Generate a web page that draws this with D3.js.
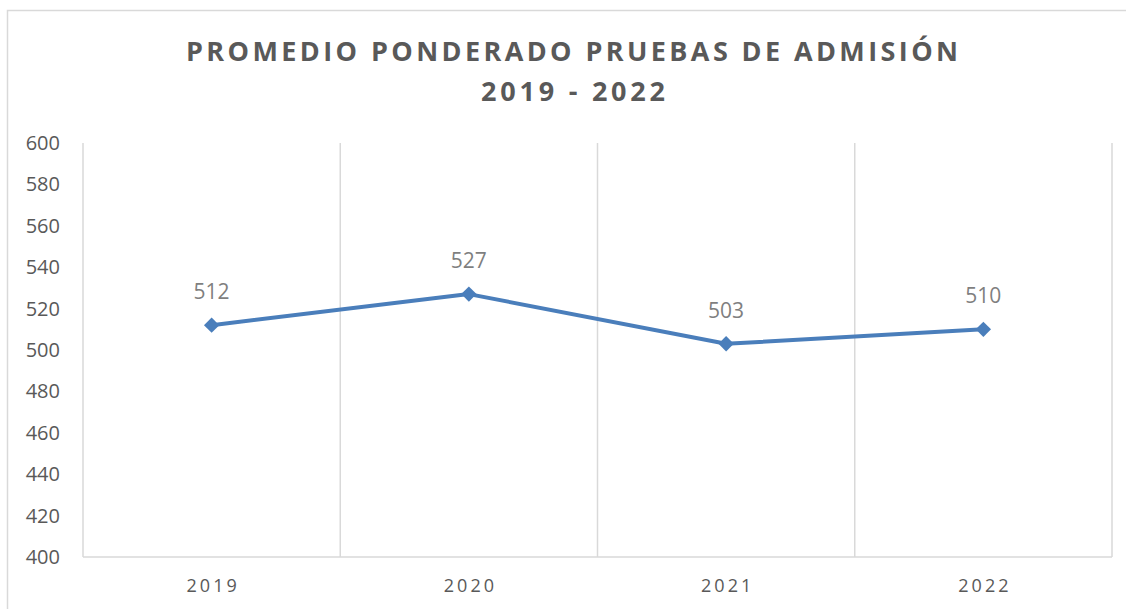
<!DOCTYPE html>
<html><head><meta charset="utf-8">
<script src="https://cdn.jsdelivr.net/npm/d3@7"></script>
<style>body{margin:0;background:#fff;}svg{display:block;}</style>
</head><body>
<svg id="c" width="1126" height="609"></svg>
<script>
const categories = ["2019","2020","2021","2022"];
const values = [512, 527, 503, 510];
const yTicks = [400,420,440,460,480,500,520,540,560,580,600];
const titleLines = ["PROMEDIO PONDERADO PRUEBAS DE ADMISIÓN","2019 - 2022"];

(function(){
const svg = d3.select("#c");
const font = "'Open Sans', 'Liberation Sans', sans-serif";
// outer chart border
svg.append("rect").attr("x",7.5).attr("y",10.5).attr("width",1130).attr("height",610)
  .attr("fill","#fff").attr("stroke","#d9d9d9").attr("stroke-width",1.5);

const pl=83, pr=1112, pt=143, pb=557;
const x = d3.scaleBand().domain(categories).range([pl,pr]);
const y = d3.scaleLinear().domain([400,600]).range([pb,pt]);

// vertical gridlines at category boundaries
const bounds = categories.map(c=>x(c)+x.bandwidth()).concat([pl]);
svg.append("g").selectAll("line").data(bounds).join("line")
  .attr("x1",d=>d).attr("x2",d=>d).attr("y1",pt).attr("y2",pb)
  .attr("stroke","#d9d9d9").attr("stroke-width",1.5);
// bottom axis line
svg.append("line").attr("x1",pl).attr("x2",pr).attr("y1",pb).attr("y2",pb)
  .attr("stroke","#d9d9d9").attr("stroke-width",1.5);

// y axis labels
const yAxis = d3.axisLeft(y).tickValues(yTicks).tickSize(0).tickPadding(23);
const gy = svg.append("g").attr("transform",`translate(${pl},0)`).call(yAxis);
gy.select(".domain").remove();
gy.selectAll("text").attr("font-family",font).attr("font-size",20).attr("fill","#595959");

// x axis labels
const xAxis = d3.axisBottom(x).tickSize(0).tickPadding(22);
const gx = svg.append("g").attr("transform",`translate(0,${pb})`).call(xAxis);
gx.select(".domain").remove();
gx.selectAll("text").attr("font-family",font).attr("font-size",18).attr("fill","#595959")
  .attr("letter-spacing","3px").attr("dx","1.5px");

// line
const cx = c=>x(c)+x.bandwidth()/2;
const line = d3.line().x((d,i)=>cx(categories[i])).y(d=>y(d));
svg.append("path").datum(values).attr("d",line).attr("fill","none")
  .attr("stroke","#4a7ebb").attr("stroke-width",4).attr("stroke-linejoin","round");

// diamond markers
svg.append("g").selectAll("path").data(values).join("path")
  .attr("d",d3.symbol().type(d3.symbolDiamond2).size(150))
  .attr("transform",(d,i)=>`translate(${cx(categories[i])},${y(d)})`)
  .attr("fill","#4a7ebb");

// data labels
svg.append("g").selectAll("text").data(values).join("text")
  .attr("x",(d,i)=>cx(categories[i])).attr("y",d=>y(d)-26)
  .attr("text-anchor","middle").attr("font-family",font).attr("font-size",21)
  .attr("fill","#7f7f7f").text(d=>d);

// title
svg.append("text").attr("x",572).attr("y",61).attr("text-anchor","middle")
  .attr("font-family",font).attr("font-weight","bold").attr("font-size",27)
  .attr("fill","#595959").attr("textLength",772).attr("lengthAdjust","spacing")
  .text(titleLines[0]);
svg.append("text").attr("x",573).attr("y",101).attr("text-anchor","middle")
  .attr("font-family",font).attr("font-weight","bold").attr("font-size",27)
  .attr("fill","#595959").attr("textLength",184).attr("lengthAdjust","spacing")
  .text(titleLines[1]);
})();
</script>
</body></html>
